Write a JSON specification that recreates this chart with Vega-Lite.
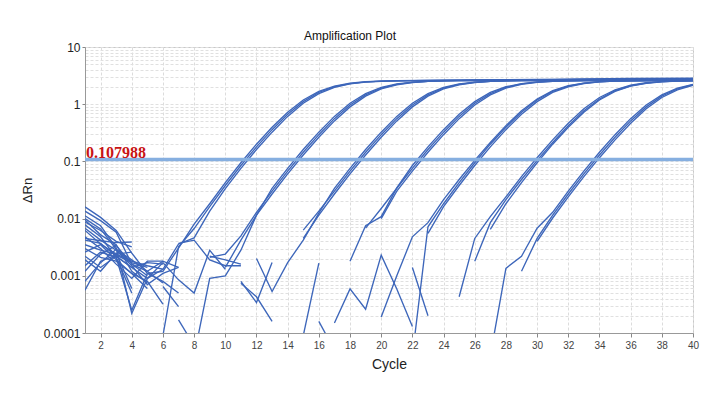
{
"$schema": "https://vega.github.io/schema/vega-lite/v6.json",
"width": 608, "height": 286,
"autosize": "none",
"padding": {"left": 85, "top": 47, "right": 14, "bottom": 64},
"background": "white",
"config": {"view": {"stroke": "#c8c8c8", "strokeWidth": 1}, "font": "Liberation Sans", "axis": {"labelOverlap": false}},
"title": {"text": "Amplification Plot", "fontSize": 12, "fontWeight": "normal", "font": "Liberation Sans", "color": "#111", "anchor": "middle", "dx": -39, "offset": -2},
"layer": [
{"data": {"values": [
{"s":"S01","c":1,"v":0.016},{"s":"S01","c":2,"v":0.0105},{"s":"S01","c":3,"v":0.0062},{"s":"S01","c":4,"v":0.0025},{"s":"S01","c":5,"v":0.0011},{"s":"S01","c":6,"v":0.0012},{"s":"S01","c":7,"v":0.00305},{"s":"S01","c":8,"v":0.008},{"s":"S01","c":9,"v":0.0182},{"s":"S01","c":10,"v":0.0425},{"s":"S01","c":11,"v":0.0947},{"s":"S01","c":12,"v":0.2},{"s":"S01","c":13,"v":0.396},{"s":"S01","c":14,"v":0.726},{"s":"S01","c":15,"v":1.185},{"s":"S01","c":16,"v":1.673},{"s":"S01","c":17,"v":2.069},{"s":"S01","c":18,"v":2.324},{"s":"S01","c":19,"v":2.464},{"s":"S01","c":20,"v":2.535},{"s":"S01","c":21,"v":2.57},{"s":"S01","c":24,"v":2.63},{"s":"S01","c":28,"v":2.69},{"s":"S01","c":32,"v":2.75},{"s":"S01","c":36,"v":2.81},{"s":"S01","c":40,"v":2.86},
{"s":"S02","c":1,"v":0.0135},{"s":"S02","c":2,"v":0.0092},{"s":"S02","c":3,"v":0.0058},{"s":"S02","c":4,"v":0.0016},{"s":"S02","c":5,"v":0.0012},{"s":"S02","c":6,"v":0.00075},
{"s":"S03","c":1,"v":0.0112},{"s":"S03","c":2,"v":0.0075},{"s":"S03","c":3,"v":0.0031},{"s":"S03","c":4,"v":0.00022},{"s":"S03","c":5,"v":0.0009},{"s":"S03","c":6,"v":0.0017},{"s":"S03","c":7,"v":0.00085},{"s":"S03","c":8,"v":0.0005},{"s":"S03","c":9,"v":0.0028},{"s":"S03","c":10,"v":0.0013},
{"s":"S04","c":1,"v":0.0095},{"s":"S04","c":2,"v":0.0052},{"s":"S04","c":3,"v":0.0035},{"s":"S04","c":4,"v":0.0012},{"s":"S04","c":5,"v":0.00075},
{"s":"S05","c":1,"v":0.0078},{"s":"S05","c":2,"v":0.0048},{"s":"S05","c":3,"v":0.0021},{"s":"S05","c":4,"v":0.00025},{"s":"S05","c":5,"v":0.0011},{"s":"S05","c":6,"v":0.0008},{"s":"S05","c":7,"v":0.0005},
{"s":"S06","c":1,"v":0.0062},{"s":"S06","c":2,"v":0.0036},{"s":"S06","c":3,"v":0.0024},{"s":"S06","c":4,"v":0.0018},{"s":"S06","c":5,"v":0.0015},{"s":"S06","c":6,"v":0.0013},{"s":"S06","c":7,"v":0.0036},{"s":"S06","c":8,"v":0.0046},{"s":"S06","c":9,"v":0.0135},{"s":"S06","c":10,"v":0.0335},{"s":"S06","c":11,"v":0.0757},{"s":"S06","c":12,"v":0.1612},{"s":"S06","c":13,"v":0.3245},{"s":"S06","c":14,"v":0.612},{"s":"S06","c":15,"v":1.038},{"s":"S06","c":16,"v":1.532},{"s":"S06","c":17,"v":1.965},{"s":"S06","c":18,"v":2.261},{"s":"S06","c":19,"v":2.431},{"s":"S06","c":20,"v":2.519},{"s":"S06","c":21,"v":2.562},{"s":"S06","c":22,"v":2.582},{"s":"S06","c":25,"v":2.61},{"s":"S06","c":29,"v":2.65},{"s":"S06","c":33,"v":2.7},{"s":"S06","c":37,"v":2.74},{"s":"S06","c":40,"v":2.77},
{"s":"S07","c":1,"v":0.0045},{"s":"S07","c":2,"v":0.0041},{"s":"S07","c":3,"v":0.0038},{"s":"S07","c":4,"v":0.0039},
{"s":"S08","c":1,"v":0.0042},{"s":"S08","c":2,"v":0.0037},{"s":"S08","c":3,"v":0.0022},{"s":"S08","c":4,"v":0.0014},{"s":"S08","c":5,"v":0.0017},{"s":"S08","c":6,"v":0.0016},
{"s":"S09","c":1,"v":0.0035},{"s":"S09","c":2,"v":0.0028},{"s":"S09","c":3,"v":0.0024},{"s":"S09","c":4,"v":0.0026},
{"s":"S10","c":1,"v":0.0026},{"s":"S10","c":2,"v":0.0035},{"s":"S10","c":3,"v":0.0019},{"s":"S10","c":4,"v":0.0011},{"s":"S10","c":5,"v":0.0006},
{"s":"S11","c":1,"v":0.0022},{"s":"S11","c":2,"v":0.0014},{"s":"S11","c":3,"v":0.0022},{"s":"S11","c":4,"v":0.0014},{"s":"S11","c":5,"v":0.0009},{"s":"S11","c":6,"v":0.0013},
{"s":"S12","c":1,"v":0.0019},{"s":"S12","c":2,"v":0.0012},{"s":"S12","c":3,"v":0.0025},{"s":"S12","c":4,"v":0.0006},
{"s":"S13","c":1,"v":0.0015},{"s":"S13","c":2,"v":0.0026},{"s":"S13","c":3,"v":0.0021},{"s":"S13","c":4,"v":0.0005},
{"s":"S14","c":1,"v":0.0008},{"s":"S14","c":2,"v":0.0017},{"s":"S14","c":3,"v":0.0029},{"s":"S14","c":4,"v":0.0019},{"s":"S14","c":5,"v":0.0012},{"s":"S14","c":6,"v":0.0018},{"s":"S14","c":7,"v":0.0014},
{"s":"S15","c":1,"v":0.00056},{"s":"S15","c":2,"v":0.0018},{"s":"S15","c":3,"v":0.0023},{"s":"S15","c":4,"v":0.0017},
{"s":"S16","c":1,"v":0.0048},{"s":"S16","c":2,"v":0.003},{"s":"S16","c":3,"v":0.0016},{"s":"S16","c":4,"v":0.0009},{"s":"S16","c":5,"v":0.0018},{"s":"S16","c":6,"v":0.0018},
{"s":"S17","c":1,"v":0.003},{"s":"S17","c":2,"v":0.0021},{"s":"S17","c":3,"v":0.0018},{"s":"S17","c":4,"v":0.0011},{"s":"S17","c":5,"v":0.0008},{"s":"S17","c":6,"v":0.00032},
{"s":"S18","c":1,"v":0.0068},{"s":"S18","c":2,"v":0.0042},{"s":"S18","c":3,"v":0.0028},{"s":"S18","c":4,"v":0.0015},{"s":"S18","c":5,"v":0.0007},{"s":"S18","c":6,"v":0.0011},{"s":"S18","c":7,"v":0.0014},
{"s":"S19","c":1,"v":0.0012},{"s":"S19","c":2,"v":0.0024},{"s":"S19","c":3,"v":0.0034},{"s":"S19","c":4,"v":0.0016},{"s":"S19","c":5,"v":0.001},
{"s":"S20","c":1,"v":0.0087},{"s":"S20","c":2,"v":0.0062},{"s":"S20","c":3,"v":0.004},{"s":"S20","c":4,"v":0.0032},
{"s":"S21","c":1,"v":0.01},{"s":"S21","c":2,"v":0.0066},{"s":"S21","c":3,"v":0.0029},{"s":"S21","c":4,"v":0.0017},{"s":"S21","c":5,"v":0.0014},
{"s":"M1","c":6,"v":0.00065},{"s":"M1","c":7,"v":0.00029},
{"s":"M2","c":7,"v":0.00017},{"s":"M2","c":8,"v":0.00006},
{"s":"M3","c":9,"v":0.0022},{"s":"M3","c":10,"v":0.0019},{"s":"M3","c":11,"v":0.0016},
{"s":"M3b","c":7,"v":0.0037},{"s":"M3b","c":8,"v":0.0042},{"s":"M3b","c":9,"v":0.0019},{"s":"M3b","c":10,"v":0.0015},{"s":"M3b","c":11,"v":0.0015},
{"s":"M4","c":11,"v":0.00074},{"s":"M4","c":12,"v":0.00043},{"s":"M4","c":13,"v":0.00016},
{"s":"M5","c":11,"v":0.0008},{"s":"M5","c":12,"v":0.00034},{"s":"M5","c":13,"v":0.0017},
{"s":"M7","c":15,"v":0.00009},{"s":"M7","c":16,"v":0.00166},
{"s":"M8","c":16,"v":0.00016},{"s":"M8","c":17,"v":0.00005},
{"s":"M9","c":17,"v":0.00015},{"s":"M9","c":18,"v":0.00059},{"s":"M9","c":19,"v":0.00026},{"s":"M9","c":20,"v":0.0023},{"s":"M9","c":21,"v":0.00059},{"s":"M9","c":22,"v":0.00013},
{"s":"M13","c":22,"v":0.0014},{"s":"M13","c":23,"v":0.0002},
{"s":"G1b","c":6,"v":0.00009},{"s":"G1b","c":7,"v":0.0032},{"s":"G1b","c":8,"v":0.0067},{"s":"G1b","c":9,"v":0.0162},{"s":"G1b","c":10,"v":0.0379},{"s":"G1b","c":11,"v":0.0847},{"s":"G1b","c":12,"v":0.1796},{"s":"G1b","c":13,"v":0.3588},{"s":"G1b","c":14,"v":0.668},{"s":"G1b","c":15,"v":1.11},{"s":"G1b","c":16,"v":1.603},{"s":"G1b","c":17,"v":2.019},{"s":"G1b","c":18,"v":2.294},{"s":"G1b","c":19,"v":2.449},{"s":"G1b","c":20,"v":2.527},{"s":"G1b","c":21,"v":2.566},{"s":"G1b","c":22,"v":2.584},{"s":"G1b","c":25,"v":2.62},{"s":"G1b","c":29,"v":2.67},{"s":"G1b","c":33,"v":2.72},{"s":"G1b","c":37,"v":2.77},{"s":"G1b","c":40,"v":2.8},
{"s":"G2a","c":8,"v":0.00004},{"s":"G2a","c":9,"v":0.0009},{"s":"G2a","c":10,"v":0.001},{"s":"G2a","c":11,"v":0.0028},{"s":"G2a","c":12,"v":0.0115},{"s":"G2a","c":13,"v":0.0339},{"s":"G2a","c":14,"v":0.0757},{"s":"G2a","c":15,"v":0.1612},{"s":"G2a","c":16,"v":0.3245},{"s":"G2a","c":17,"v":0.612},{"s":"G2a","c":18,"v":1.038},{"s":"G2a","c":19,"v":1.532},{"s":"G2a","c":20,"v":1.965},{"s":"G2a","c":21,"v":2.261},{"s":"G2a","c":22,"v":2.431},{"s":"G2a","c":23,"v":2.519},{"s":"G2a","c":24,"v":2.562},{"s":"G2a","c":25,"v":2.582},{"s":"G2a","c":28,"v":2.62},{"s":"G2a","c":32,"v":2.68},{"s":"G2a","c":36,"v":2.74},{"s":"G2a","c":40,"v":2.8},
{"s":"G2b","c":9,"v":0.0021},{"s":"G2b","c":10,"v":0.0024},{"s":"G2b","c":11,"v":0.005},{"s":"G2b","c":12,"v":0.01287},{"s":"G2b","c":13,"v":0.0302},{"s":"G2b","c":14,"v":0.0677},{"s":"G2b","c":15,"v":0.1446},{"s":"G2b","c":16,"v":0.2933},{"s":"G2b","c":17,"v":0.5595},{"s":"G2b","c":18,"v":0.9667},{"s":"G2b","c":19,"v":1.4583},{"s":"G2b","c":20,"v":1.9079},{"s":"G2b","c":21,"v":2.2259},{"s":"G2b","c":22,"v":2.412},{"s":"G2b","c":23,"v":2.5095},{"s":"G2b","c":24,"v":2.557},{"s":"G2b","c":25,"v":2.58},{"s":"G2b","c":28,"v":2.61},{"s":"G2b","c":32,"v":2.66},{"s":"G2b","c":36,"v":2.71},{"s":"G2b","c":40,"v":2.76},
{"s":"G2c","c":10,"v":0.0014},{"s":"G2c","c":11,"v":0.0042},{"s":"G2c","c":12,"v":0.01148},{"s":"G2c","c":13,"v":0.0269},{"s":"G2c","c":14,"v":0.0605},{"s":"G2c","c":15,"v":0.1296},{"s":"G2c","c":16,"v":0.2644},{"s":"G2c","c":17,"v":0.5106},{"s":"G2c","c":18,"v":0.8978},{"s":"G2c","c":19,"v":1.384},{"s":"G2c","c":20,"v":1.848},{"s":"G2c","c":21,"v":2.187},{"s":"G2c","c":22,"v":2.391},{"s":"G2c","c":23,"v":2.499},{"s":"G2c","c":24,"v":2.552},{"s":"G2c","c":25,"v":2.578},{"s":"G2c","c":28,"v":2.6},{"s":"G2c","c":32,"v":2.65},{"s":"G2c","c":36,"v":2.7},{"s":"G2c","c":40,"v":2.74},
{"s":"G3a","c":12,"v":0.002},{"s":"G3a","c":13,"v":0.00053},{"s":"G3a","c":14,"v":0.0017},{"s":"G3a","c":15,"v":0.0042},{"s":"G3a","c":16,"v":0.0125},{"s":"G3a","c":17,"v":0.0339},{"s":"G3a","c":18,"v":0.0757},{"s":"G3a","c":19,"v":0.1612},{"s":"G3a","c":20,"v":0.3245},{"s":"G3a","c":21,"v":0.612},{"s":"G3a","c":22,"v":1.038},{"s":"G3a","c":23,"v":1.532},{"s":"G3a","c":24,"v":1.965},{"s":"G3a","c":25,"v":2.261},{"s":"G3a","c":26,"v":2.431},{"s":"G3a","c":27,"v":2.519},{"s":"G3a","c":28,"v":2.562},{"s":"G3a","c":29,"v":2.582},{"s":"G3a","c":32,"v":2.62},{"s":"G3a","c":36,"v":2.68},{"s":"G3a","c":40,"v":2.74},
{"s":"G3b","c":15,"v":0.0063},{"s":"G3b","c":16,"v":0.0135},{"s":"G3b","c":17,"v":0.0302},{"s":"G3b","c":18,"v":0.0677},{"s":"G3b","c":19,"v":0.1446},{"s":"G3b","c":20,"v":0.2933},{"s":"G3b","c":21,"v":0.5595},{"s":"G3b","c":22,"v":0.9667},{"s":"G3b","c":23,"v":1.4583},{"s":"G3b","c":24,"v":1.9079},{"s":"G3b","c":25,"v":2.2259},{"s":"G3b","c":26,"v":2.412},{"s":"G3b","c":27,"v":2.5095},{"s":"G3b","c":28,"v":2.557},{"s":"G3b","c":29,"v":2.58},{"s":"G3b","c":32,"v":2.61},{"s":"G3b","c":36,"v":2.66},{"s":"G3b","c":40,"v":2.71},
{"s":"G3c","c":15,"v":0.0045},{"s":"G3c","c":16,"v":0.0115},{"s":"G3c","c":17,"v":0.0269},{"s":"G3c","c":18,"v":0.0605},{"s":"G3c","c":19,"v":0.1296},{"s":"G3c","c":20,"v":0.2644},{"s":"G3c","c":21,"v":0.5106},{"s":"G3c","c":22,"v":0.8978},{"s":"G3c","c":23,"v":1.384},{"s":"G3c","c":24,"v":1.848},{"s":"G3c","c":25,"v":2.187},{"s":"G3c","c":26,"v":2.391},{"s":"G3c","c":27,"v":2.499},{"s":"G3c","c":28,"v":2.552},{"s":"G3c","c":29,"v":2.578},{"s":"G3c","c":32,"v":2.6},{"s":"G3c","c":36,"v":2.65},{"s":"G3c","c":40,"v":2.7},
{"s":"G4a","c":18,"v":0.0018},{"s":"G4a","c":19,"v":0.0075},{"s":"G4a","c":20,"v":0.0108},{"s":"G4a","c":21,"v":0.0345},{"s":"G4a","c":22,"v":0.0847},{"s":"G4a","c":23,"v":0.1796},{"s":"G4a","c":24,"v":0.3588},{"s":"G4a","c":25,"v":0.668},{"s":"G4a","c":26,"v":1.11},{"s":"G4a","c":27,"v":1.603},{"s":"G4a","c":28,"v":2.019},{"s":"G4a","c":29,"v":2.294},{"s":"G4a","c":30,"v":2.449},{"s":"G4a","c":31,"v":2.527},{"s":"G4a","c":32,"v":2.566},{"s":"G4a","c":33,"v":2.584},{"s":"G4a","c":36,"v":2.62},{"s":"G4a","c":40,"v":2.68},
{"s":"G4b","c":19,"v":0.0068},{"s":"G4b","c":20,"v":0.015},{"s":"G4b","c":21,"v":0.0339},{"s":"G4b","c":22,"v":0.0757},{"s":"G4b","c":23,"v":0.1612},{"s":"G4b","c":24,"v":0.3245},{"s":"G4b","c":25,"v":0.612},{"s":"G4b","c":26,"v":1.038},{"s":"G4b","c":27,"v":1.532},{"s":"G4b","c":28,"v":1.965},{"s":"G4b","c":29,"v":2.261},{"s":"G4b","c":30,"v":2.431},{"s":"G4b","c":31,"v":2.519},{"s":"G4b","c":32,"v":2.562},{"s":"G4b","c":33,"v":2.582},{"s":"G4b","c":36,"v":2.61},{"s":"G4b","c":40,"v":2.66},
{"s":"G4c","c":20,"v":0.01},{"s":"G4c","c":21,"v":0.0302},{"s":"G4c","c":22,"v":0.0677},{"s":"G4c","c":23,"v":0.1446},{"s":"G4c","c":24,"v":0.2933},{"s":"G4c","c":25,"v":0.5595},{"s":"G4c","c":26,"v":0.9667},{"s":"G4c","c":27,"v":1.4583},{"s":"G4c","c":28,"v":1.9079},{"s":"G4c","c":29,"v":2.2259},{"s":"G4c","c":30,"v":2.412},{"s":"G4c","c":31,"v":2.5095},{"s":"G4c","c":32,"v":2.557},{"s":"G4c","c":33,"v":2.58},{"s":"G4c","c":36,"v":2.6},{"s":"G4c","c":40,"v":2.65},
{"s":"G5a","c":20,"v":0.00019},{"s":"G5a","c":21,"v":0.001},{"s":"G5a","c":22,"v":0.0048},{"s":"G5a","c":23,"v":0.0085},{"s":"G5a","c":24,"v":0.0214},{"s":"G5a","c":25,"v":0.0483},{"s":"G5a","c":26,"v":0.104},{"s":"G5a","c":27,"v":0.2145},{"s":"G5a","c":28,"v":0.4225},{"s":"G5a","c":29,"v":0.7675},{"s":"G5a","c":30,"v":1.2345},{"s":"G5a","c":31,"v":1.719},{"s":"G5a","c":32,"v":2.101},{"s":"G5a","c":33,"v":2.342},{"s":"G5a","c":34,"v":2.474},{"s":"G5a","c":35,"v":2.54},{"s":"G5a","c":36,"v":2.572},{"s":"G5a","c":38,"v":2.6},{"s":"G5a","c":40,"v":2.62},
{"s":"G5b","c":22,"v":0.00004},{"s":"G5b","c":23,"v":0.0072},{"s":"G5b","c":24,"v":0.0182},{"s":"G5b","c":25,"v":0.0425},{"s":"G5b","c":26,"v":0.0947},{"s":"G5b","c":27,"v":0.2},{"s":"G5b","c":28,"v":0.396},{"s":"G5b","c":29,"v":0.726},{"s":"G5b","c":30,"v":1.185},{"s":"G5b","c":31,"v":1.673},{"s":"G5b","c":32,"v":2.069},{"s":"G5b","c":33,"v":2.324},{"s":"G5b","c":34,"v":2.464},{"s":"G5b","c":35,"v":2.535},{"s":"G5b","c":36,"v":2.57},{"s":"G5b","c":38,"v":2.6},{"s":"G5b","c":40,"v":2.63},
{"s":"G5c","c":23,"v":0.0055},{"s":"G5c","c":24,"v":0.0162},{"s":"G5c","c":25,"v":0.0379},{"s":"G5c","c":26,"v":0.0847},{"s":"G5c","c":27,"v":0.1796},{"s":"G5c","c":28,"v":0.3588},{"s":"G5c","c":29,"v":0.668},{"s":"G5c","c":30,"v":1.11},{"s":"G5c","c":31,"v":1.603},{"s":"G5c","c":32,"v":2.019},{"s":"G5c","c":33,"v":2.294},{"s":"G5c","c":34,"v":2.449},{"s":"G5c","c":35,"v":2.527},{"s":"G5c","c":36,"v":2.566},{"s":"G5c","c":37,"v":2.584},{"s":"G5c","c":40,"v":2.62},
{"s":"G6a","c":25,"v":0.00043},{"s":"G6a","c":26,"v":0.0045},{"s":"G6a","c":27,"v":0.0108},{"s":"G6a","c":28,"v":0.02404},{"s":"G6a","c":29,"v":0.05404},{"s":"G6a","c":30,"v":0.1161},{"s":"G6a","c":31,"v":0.2383},{"s":"G6a","c":32,"v":0.4651},{"s":"G6a","c":33,"v":0.8315},{"s":"G6a","c":34,"v":1.309},{"s":"G6a","c":35,"v":1.785},{"s":"G6a","c":36,"v":2.146},{"s":"G6a","c":37,"v":2.368},{"s":"G6a","c":38,"v":2.487},{"s":"G6a","c":39,"v":2.546},{"s":"G6a","c":40,"v":2.575},
{"s":"G6b","c":26,"v":0.0018},{"s":"G6b","c":27,"v":0.0085},{"s":"G6b","c":28,"v":0.02144},{"s":"G6b","c":29,"v":0.04826},{"s":"G6b","c":30,"v":0.104},{"s":"G6b","c":31,"v":0.2145},{"s":"G6b","c":32,"v":0.4225},{"s":"G6b","c":33,"v":0.7675},{"s":"G6b","c":34,"v":1.2345},{"s":"G6b","c":35,"v":1.719},{"s":"G6b","c":36,"v":2.101},{"s":"G6b","c":37,"v":2.342},{"s":"G6b","c":38,"v":2.474},{"s":"G6b","c":39,"v":2.54},{"s":"G6b","c":40,"v":2.572},
{"s":"G6c","c":27,"v":0.0065},{"s":"G6c","c":28,"v":0.0182},{"s":"G6c","c":29,"v":0.0425},{"s":"G6c","c":30,"v":0.0947},{"s":"G6c","c":31,"v":0.2},{"s":"G6c","c":32,"v":0.396},{"s":"G6c","c":33,"v":0.726},{"s":"G6c","c":34,"v":1.185},{"s":"G6c","c":35,"v":1.673},{"s":"G6c","c":36,"v":2.069},{"s":"G6c","c":37,"v":2.324},{"s":"G6c","c":38,"v":2.464},{"s":"G6c","c":39,"v":2.535},{"s":"G6c","c":40,"v":2.57},
{"s":"G7a","c":27,"v":0.00004},{"s":"G7a","c":28,"v":0.00135},{"s":"G7a","c":29,"v":0.0022},{"s":"G7a","c":30,"v":0.0068},{"s":"G7a","c":31,"v":0.01287},{"s":"G7a","c":32,"v":0.0302},{"s":"G7a","c":33,"v":0.0677},{"s":"G7a","c":34,"v":0.1446},{"s":"G7a","c":35,"v":0.2933},{"s":"G7a","c":36,"v":0.5595},{"s":"G7a","c":37,"v":0.9667},{"s":"G7a","c":38,"v":1.4583},{"s":"G7a","c":39,"v":1.9079},{"s":"G7a","c":40,"v":2.2259},
{"s":"G7b","c":29,"v":0.0012},{"s":"G7b","c":30,"v":0.0045},{"s":"G7b","c":31,"v":0.01148},{"s":"G7b","c":32,"v":0.0269},{"s":"G7b","c":33,"v":0.0605},{"s":"G7b","c":34,"v":0.1296},{"s":"G7b","c":35,"v":0.2644},{"s":"G7b","c":36,"v":0.5106},{"s":"G7b","c":37,"v":0.8978},{"s":"G7b","c":38,"v":1.384},{"s":"G7b","c":39,"v":1.848},{"s":"G7b","c":40,"v":2.187},
{"s":"G7c","c":30,"v":0.004},{"s":"G7c","c":31,"v":0.01024},{"s":"G7c","c":32,"v":0.02404},{"s":"G7c","c":33,"v":0.05404},{"s":"G7c","c":34,"v":0.1161},{"s":"G7c","c":35,"v":0.2383},{"s":"G7c","c":36,"v":0.4651},{"s":"G7c","c":37,"v":0.8315},{"s":"G7c","c":38,"v":1.309},{"s":"G7c","c":39,"v":1.785},{"s":"G7c","c":40,"v":2.146}
]},
"mark": {"type": "line", "color": "#3d66ba", "strokeWidth": 1.35, "clip": true},
"encoding": {
"x": {"field": "c", "type": "quantitative", "title": "Cycle",
 "scale": {"domain": [1, 40], "nice": false, "zero": false},
 "axis": {"values": [2,4,6,8,10,12,14,16,18,20,22,24,26,28,30,32,34,36,38,40], "tickCount": 100, "format": "d", "labelOverlap": false, "labelBound": false, "labelFontSize": 10, "labelColor": "#444", "labelFont": "Liberation Sans", "tickSize": 4, "tickColor": "#888", "labelPadding": 3, "labelFlush": false, "grid": true, "gridColor": "#dcdcdc", "gridDash": [3, 2], "domainColor": "#999", "titleFontSize": 14, "titleFontWeight": "normal", "titleFont": "Liberation Sans", "titleColor": "#222", "titlePadding": 7}},
"y": {"field": "v", "type": "quantitative", "title": "ΔRn",
 "scale": {"type": "log", "domain": [0.0001, 10], "nice": false},
 "axis": {"values": [0.0001,0.0002,0.0003,0.0004,0.0005,0.0006,0.0007,0.0008,0.0009,0.001,0.002,0.003,0.004,0.005,0.006,0.007,0.008,0.009,0.01,0.02,0.03,0.04,0.05,0.06,0.07,0.08,0.09,0.1,0.2,0.3,0.4,0.5,0.6,0.7,0.8,0.9,1,2,3,4,5,6,7,8,9,10],
  "tickCount": 100,
  "format": "~g",
  "labelExpr": "abs(log(datum.value)/LN10 - round(log(datum.value)/LN10)) < 0.001 ? datum.label : ''",
  "labelOverlap": false, "labelBound": false, "labelFlush": false,
  "labelFontSize": 12, "labelColor": "#222", "labelFont": "Liberation Sans", "labelPadding": 2,
  "tickSize": 3, "tickColor": "#888",
  "tickOpacity": {"condition": {"test": "abs(log(datum.value)/LN10 - round(log(datum.value)/LN10)) < 0.001", "value": 1}, "value": 0},
  "grid": true, "gridColor": "#e0e0e0", "gridDash": [3, 2], "domainColor": "#999",
  "titleFontSize": 13, "titleFontWeight": "normal", "titleFont": "Liberation Sans", "titleColor": "#222", "titlePadding": 9}},
"detail": {"field": "s"}
}},
{"data": {"values": [{"t": 0.107988}]},
 "mark": {"type": "rule", "color": "#86afe0", "strokeWidth": 3.5},
 "encoding": {"y": {"field": "t", "type": "quantitative", "title": "ΔRn"}}},
{"data": {"values": [{"t": 0.107988}]},
 "mark": {"type": "text", "text": "0.107988", "font": "Liberation Serif", "fontWeight": "bold", "fontSize": 16, "color": "#c81414", "align": "left", "baseline": "alphabetic", "dx": 1, "dy": -1},
 "encoding": {"x": {"datum": 1, "type": "quantitative"}, "y": {"field": "t", "type": "quantitative", "title": "ΔRn"}}}
]
}
